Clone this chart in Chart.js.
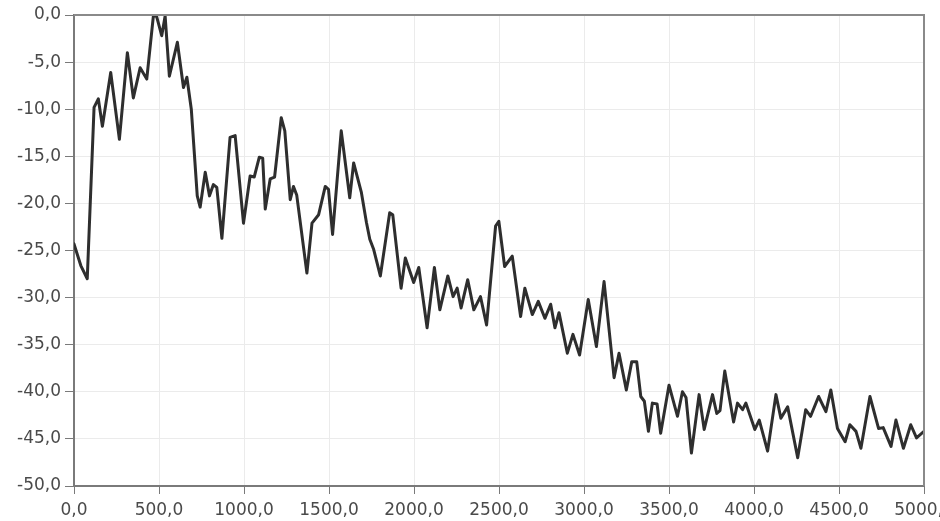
<!DOCTYPE html>
<html>
<head>
<meta charset="utf-8">
<script src="https://cdn.jsdelivr.net/npm/chart.js@4"></script>
<style>
  html, body { margin: 0; padding: 0; background: #fff; overflow: hidden; }
  #wrap { position: relative; width: 960px; height: 521px; }
</style>
</head>
<body>
<div id="wrap"><canvas id="myChart"></canvas></div>
<script>
// spectrum: frequency (Hz) and level (dB)
var freqs = [0, 40, 78, 118, 143, 167, 216, 267, 314, 349, 389, 428, 467, 485, 516, 536, 561, 608, 644, 664,
  690, 725, 742, 772, 797, 820, 840, 870, 918, 948, 997, 1036, 1060, 1090, 1110, 1125, 1154, 1180, 1219, 1240,
  1272, 1291, 1310, 1370, 1400, 1439, 1478, 1497, 1521, 1572, 1622, 1645, 1690, 1720, 1740, 1763, 1802, 1857, 1875, 1924,
  1949, 1998, 2028, 2077, 2120, 2152, 2199, 2230, 2254, 2277, 2316, 2352, 2391, 2427, 2480, 2499, 2533, 2578, 2627, 2652,
  2696, 2731, 2770, 2804, 2829, 2853, 2902, 2935, 2974, 3025, 3073, 3118, 3177, 3206, 3249, 3281, 3310, 3334, 3355, 3379,
  3402, 3430, 3451, 3500, 3550, 3579, 3600, 3632, 3677, 3707, 3756, 3781, 3800, 3828, 3880, 3903, 3933, 3952, 4005, 4031,
  4080, 4129, 4158, 4198, 4257, 4304, 4333, 4380, 4423, 4452, 4491, 4536, 4564, 4600, 4629, 4682, 4733, 4760, 4806, 4835,
  4879, 4922, 4956, 5000];
var levels = [-24.3, -26.6, -28.0, -9.8, -8.9, -11.8, -6.1, -13.2, -4.0, -8.8, -5.6, -6.8, -0.1, -0.1, -2.2, -0.1, -6.5, -2.9, -7.7, -6.6,
  -10.0, -19.2, -20.4, -16.7, -19.2, -18.0, -18.3, -23.7, -13.0, -12.8, -22.1, -17.1, -17.2, -15.1, -15.2, -20.6, -17.4, -17.2, -10.9, -12.3,
  -19.6, -18.2, -19.1, -27.4, -22.1, -21.2, -18.2, -18.5, -23.3, -12.3, -19.4, -15.7, -18.8, -22.0, -23.8, -24.9, -27.7, -21.0, -21.2, -29.0,
  -25.8, -28.4, -26.8, -33.2, -26.8, -31.3, -27.7, -29.9, -29.0, -31.1, -28.1, -31.3, -29.9, -32.9, -22.4, -21.9, -26.7, -25.6, -32.0, -29.0,
  -31.8, -30.4, -32.2, -30.7, -33.2, -31.6, -35.9, -33.9, -36.1, -30.2, -35.2, -28.3, -38.5, -35.9, -39.8, -36.8, -36.8, -40.5, -41.0, -44.2,
  -41.2, -41.3, -44.4, -39.3, -42.6, -40.0, -40.6, -46.5, -40.3, -44.0, -40.3, -42.3, -42.0, -37.8, -43.2, -41.2, -41.9, -41.2, -44.0, -43.0,
  -46.3, -40.3, -42.8, -41.6, -47.0, -41.9, -42.6, -40.5, -42.1, -39.8, -43.9, -45.3, -43.5, -44.2, -46.0, -40.5, -43.9, -43.8, -45.8, -43.0,
  -46.0, -43.5, -44.9, -44.2];

var xTicks = [0, 500, 1000, 1500, 2000, 2500, 3000, 3500, 4000, 4500, 5000];
var yTicks = [0, -5, -10, -15, -20, -25, -30, -35, -40, -45, -50];

function comma(v) {
  return v.toFixed(1).replace('.', ',');
}

var points = freqs.map(function(f, i) { return { x: f, y: levels[i] }; });

// top and right edges of the plot frame
var frame = {
  id: 'frame',
  afterDraw: function(chart) {
    var a = chart.chartArea, c = chart.ctx;
    c.save();
    c.strokeStyle = '#8a8a8a';
    c.lineWidth = 2;
    c.beginPath();
    c.moveTo(a.left, a.top);
    c.lineTo(a.right, a.top);
    c.lineTo(a.right, a.bottom);
    c.stroke();
    c.restore();
  }
};

var ctx = document.getElementById('myChart').getContext('2d');
var chart = new Chart(ctx, {
  type: 'line',
  data: {
    datasets: [{
      data: points,
      borderColor: '#2e2e2e',
      borderWidth: 3,
      borderJoinStyle: 'round',
      borderCapStyle: 'round',
      pointRadius: 0,
      tension: 0,
      fill: false
    }]
  },
  plugins: [frame],
  options: {
    responsive: true,
    maintainAspectRatio: false,
    animation: false,
    layout: { padding: { top: 15, right: 36, left: 0, bottom: 0 } },
    plugins: { legend: { display: false }, tooltip: { enabled: false } },
    scales: {
      x: {
        type: 'linear',
        min: 0,
        max: 5000,
        afterBuildTicks: function(s) { s.ticks = xTicks.map(function(v) { return { value: v }; }); },
        afterFit: function(s) { s.height = 35; },
        grid: { color: '#ebebeb', tickColor: '#7a7a7a', tickLength: 8, lineWidth: 1 },
        border: { color: '#7a7a7a', width: 2 },
        ticks: {
          color: '#4a4a4a',
          padding: 6,
          maxRotation: 0,
          font: { family: 'DejaVu Sans', size: 17 },
          callback: function(v) { return comma(v); }
        }
      },
      y: {
        min: -50,
        max: 0,
        afterBuildTicks: function(s) { s.ticks = yTicks.map(function(v) { return { value: v }; }); },
        afterFit: function(s) { s.width = 74; },
        grid: { color: '#ebebeb', tickColor: '#7a7a7a', tickLength: 9, lineWidth: 1 },
        border: { color: '#7a7a7a', width: 2 },
        ticks: {
          color: '#4a4a4a',
          padding: 4,
          font: { family: 'DejaVu Sans', size: 17 },
          callback: function(v) { return comma(v); }
        }
      }
    }
  }
});
</script>
</body>
</html>
